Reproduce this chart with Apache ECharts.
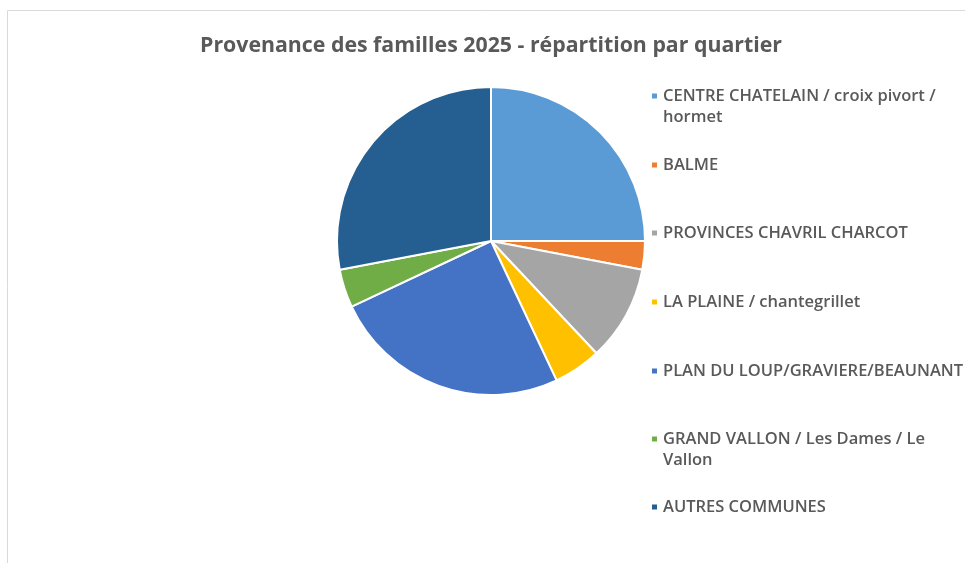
<!DOCTYPE html>
<html>
<head>
<meta charset="utf-8">
<script src="https://cdn.jsdelivr.net/npm/echarts@6/dist/echarts.min.js"></script>
<style>
  html, body { margin: 0; padding: 0; background: #fff; }
  #main { width: 965px; height: 563px; }
</style>
</head>
<body>
<div id="main"></div>
<script>
const quartiers = [
    'CENTRE CHATELAIN / croix pivort /\nhormet',
    'BALME',
    'PROVINCES CHAVRIL CHARCOT',
    'LA PLAINE / chantegrillet',
    'PLAN DU LOUP/GRAVIERE/BEAUNANT',
    'GRAND VALLON / Les Dames / Le\nVallon',
    'AUTRES COMMUNES'
];
const familles = [25, 3, 10, 5, 25, 4, 28];
const couleurs = ['#5B9BD5', '#ED7D31', '#A5A5A5', '#FFC000', '#4472C4', '#70AD47', '#255E91'];
// vertical centre of the first line of each legend entry
const legendRows = [96, 165, 233, 302, 371, 439, 507];
const LINE_H = 21;

const myChart = echarts.init(document.getElementById('main'));

const legends = quartiers.map((name, i) => {
    const twoLines = name.indexOf('\n') >= 0;
    return {
        data: [name],
        orient: 'vertical',
        left: 650,
        // two-line entries get a blank line on top so the icon sits on the first line
        top: legendRows[i] - (twoLines ? LINE_H * 1.5 : LINE_H / 2),
        padding: 0,
        icon: 'rect',
        itemWidth: 7,
        itemHeight: 7,
        selectedMode: false,
        formatter: n => (twoLines ? ' \n' : '') + n,
        textStyle: {
            color: '#595959',
            fontFamily: 'Open Sans',
            fontWeight: 600,
            fontSize: 16.5,
            lineHeight: LINE_H
        }
    };
});

const option = {
    animation: false,
    color: couleurs,
    title: {
        text: 'Provenance des familles 2025 - répartition par quartier',
        left: 491,
        textAlign: 'center',
        top: 35,
        padding: 0,
        textStyle: {
            color: '#595959',
            fontFamily: 'Open Sans',
            fontWeight: 'bold',
            fontSize: 21.3
        }
    },
    legend: legends,
    graphic: [{
        type: 'rect',
        shape: { x: 7.5, y: 10.5, width: 1000, height: 600 },
        style: { fill: 'none', stroke: '#d9d9d9', lineWidth: 1 },
        silent: true
    }],
    series: [{
        type: 'pie',
        center: [491, 241],
        radius: 154,
        startAngle: 90,
        clockwise: true,
        label: { show: false },
        labelLine: { show: false },
        itemStyle: { borderColor: '#fff', borderWidth: 2 },
        emphasis: { disabled: true },
        data: quartiers.map((name, i) => ({ name: name, value: familles[i] }))
    }]
};

myChart.setOption(option);
</script>
</body>
</html>
